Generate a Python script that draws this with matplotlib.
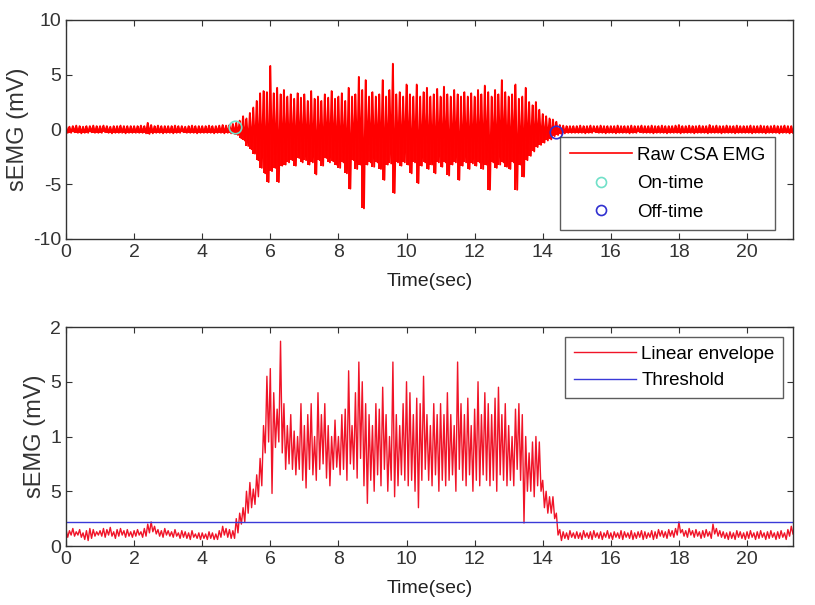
import numpy as np
import matplotlib
matplotlib.use("Agg")
import matplotlib.pyplot as plt

plt.rcParams["font.family"] = ["Liberation Sans", "DejaVu Sans"]
plt.rcParams["axes.unicode_minus"] = False

# raw sEMG: per 0.1 s bin, upper and lower peak (mV), 0.0 .. 21.3 s
raw_hi = [
    0.30, 0.25, 0.30, 0.35, 0.30, 0.25, 0.30, 0.30, 0.35, 0.30,
    0.30, 0.35, 0.30, 0.25, 0.30, 0.30, 0.35, 0.30, 0.30, 0.30,
    0.30, 0.30, 0.35, 0.30, 0.60, 0.40, 0.30, 0.35, 0.30, 0.30,
    0.30, 0.30, 0.35, 0.30, 0.30, 0.25, 0.30, 0.35, 0.30, 0.30,
    0.30, 0.30, 0.35, 0.30, 0.30, 0.35, 0.40, 0.35, 0.40, 0.50,
    0.60, 0.80, 1.20, 1.00, 1.50, 2.00, 2.60, 3.30, 3.50, 3.40,
    5.80, 3.30, 3.80, 3.20, 3.60, 3.00, 3.20, 2.80, 3.30, 2.90,
    3.20, 2.60, 3.50, 2.80, 3.00, 2.60, 3.20, 2.90, 3.50, 2.80,
    3.00, 3.30, 2.60, 3.80, 3.00, 3.20, 4.80, 3.60, 4.50, 3.00,
    3.40, 3.00, 3.20, 4.50, 3.00, 3.60, 6.00, 3.20, 3.40, 3.00,
    4.10, 3.20, 3.00, 4.10, 3.00, 3.40, 3.80, 3.00, 3.20, 3.70,
    3.00, 3.90, 3.20, 3.00, 3.60, 3.20, 3.00, 3.40, 3.00, 3.30,
    3.00, 3.60, 3.20, 4.00, 3.40, 3.00, 3.60, 3.20, 4.50, 3.40,
    3.00, 3.20, 4.10, 2.80, 3.00, 3.80, 2.50, 2.20, 2.50, 1.80,
    1.40, 1.20, 1.00, 0.90, 0.70, 0.40, 0.35, 0.30, 0.30, 0.30,
    0.30, 0.35, 0.30, 0.30, 0.35, 0.30, 0.30, 0.35, 0.30, 0.30,
    0.30, 0.30, 0.35, 0.30, 0.30, 0.30, 0.35, 0.30, 0.30, 0.35,
    0.30, 0.30, 0.35, 0.30, 0.30, 0.35, 0.30, 0.30, 0.30, 0.35,
    0.40, 0.30, 0.30, 0.35, 0.30, 0.30, 0.35, 0.30, 0.30, 0.40,
    0.30, 0.35, 0.30, 0.30, 0.35, 0.30, 0.30, 0.35, 0.30, 0.30,
    0.30, 0.35, 0.30, 0.30, 0.35, 0.30, 0.30, 0.30, 0.35, 0.30,
    0.30, 0.35, 0.30, 0.30,
]
raw_lo = [
    -0.30, -0.30, -0.25, -0.30, -0.35, -0.30, -0.30, -0.25, -0.30, -0.30,
    -0.30, -0.25, -0.30, -0.35, -0.30, -0.30, -0.30, -0.35, -0.30, -0.30,
    -0.30, -0.30, -0.30, -0.35, -0.40, -0.35, -0.30, -0.30, -0.35, -0.30,
    -0.30, -0.35, -0.30, -0.30, -0.25, -0.30, -0.30, -0.30, -0.35, -0.30,
    -0.30, -0.30, -0.30, -0.35, -0.30, -0.30, -0.35, -0.30, -0.35, -0.40,
    -0.50, -0.80, -1.00, -1.50, -1.80, -2.20, -2.80, -3.50, -4.00, -4.80,
    -3.80, -3.50, -4.80, -3.30, -3.20, -3.00, -2.80, -3.30, -2.60, -3.00,
    -2.80, -3.20, -3.00, -4.10, -2.80, -3.30, -2.60, -3.00, -2.90, -3.20,
    -3.50, -3.00, -4.00, -5.40, -2.80, -3.60, -3.20, -7.20, -3.20, -3.00,
    -3.40, -3.00, -3.60, -4.60, -3.20, -3.10, -5.80, -3.00, -3.30, -3.00,
    -3.20, -4.00, -3.00, -4.90, -3.30, -3.00, -3.60, -3.20, -4.00, -3.00,
    -3.40, -3.00, -4.20, -3.20, -3.00, -4.60, -3.30, -3.00, -3.60, -3.10,
    -3.30, -3.00, -3.60, -3.20, -5.50, -3.00, -3.50, -3.20, -3.00, -3.40,
    -3.60, -3.00, -5.50, -3.20, -4.30, -2.80, -2.40, -2.00, -1.60, -1.40,
    -1.20, -1.00, -0.90, -0.60, -0.50, -0.40, -0.35, -0.30, -0.30, -0.30,
    -0.30, -0.30, -0.35, -0.30, -0.30, -0.25, -0.30, -0.30, -0.35, -0.30,
    -0.30, -0.35, -0.30, -0.30, -0.30, -0.35, -0.30, -0.30, -0.25, -0.30,
    -0.30, -0.30, -0.35, -0.30, -0.30, -0.30, -0.35, -0.30, -0.30, -0.30,
    -0.35, -0.30, -0.30, -0.30, -0.35, -0.30, -0.30, -0.30, -0.35, -0.30,
    -0.30, -0.30, -0.35, -0.30, -0.30, -0.30, -0.35, -0.30, -0.30, -0.30,
    -0.30, -0.35, -0.30, -0.30, -0.30, -0.35, -0.30, -0.30, -0.30, -0.35,
    -0.30, -0.30, -0.35, -0.30,
]

# linear envelope: per 0.1 s bin, upper and lower value
env_hi = [
    0.15, 0.14, 0.16, 0.13, 0.15, 0.12, 0.14, 0.16, 0.15, 0.13,
    0.14, 0.16, 0.15, 0.17, 0.13, 0.15, 0.16, 0.14, 0.15, 0.13,
    0.14, 0.15, 0.13, 0.16, 0.20, 0.22, 0.18, 0.15, 0.14, 0.16,
    0.14, 0.13, 0.15, 0.12, 0.14, 0.13, 0.12, 0.14, 0.11, 0.12,
    0.12, 0.11, 0.13, 0.12, 0.11, 0.14, 0.18, 0.16, 0.15, 0.14,
    0.25, 0.30, 0.35, 0.50, 0.58, 0.52, 0.65, 0.80, 1.10, 1.55,
    1.62, 1.40, 1.25, 1.87, 1.30, 1.10, 1.20, 1.05, 1.00, 1.30,
    1.10, 1.20, 1.30, 1.00, 1.40, 1.20, 1.30, 1.10, 1.00, 1.15,
    1.00, 1.20, 1.25, 1.60, 1.10, 1.40, 1.68, 1.50, 1.30, 1.20,
    1.10, 1.30, 1.25, 1.45, 1.20, 1.00, 1.68, 1.20, 1.10, 1.30,
    1.50, 1.40, 1.20, 1.35, 1.30, 1.55, 1.20, 1.10, 1.30, 1.20,
    1.30, 1.20, 1.40, 1.20, 1.10, 1.68, 1.30, 1.20, 1.35, 1.10,
    1.25, 1.50, 1.20, 1.40, 1.30, 1.20, 1.35, 1.45, 1.20, 1.30,
    1.10, 1.00, 1.25, 1.30, 1.20, 1.00, 0.85, 0.95, 1.00, 0.95,
    0.60, 0.50, 0.45, 0.45, 0.30, 0.15, 0.13, 0.12, 0.14, 0.12,
    0.13, 0.12, 0.14, 0.12, 0.13, 0.14, 0.12, 0.13, 0.12, 0.14,
    0.12, 0.13, 0.12, 0.14, 0.13, 0.12, 0.14, 0.12, 0.13, 0.14,
    0.13, 0.12, 0.14, 0.13, 0.15, 0.14, 0.13, 0.15, 0.14, 0.16,
    0.22, 0.15, 0.14, 0.16, 0.14, 0.15, 0.13, 0.14, 0.15, 0.13,
    0.20, 0.16, 0.14, 0.13, 0.12, 0.13, 0.12, 0.14, 0.13, 0.12,
    0.13, 0.14, 0.12, 0.13, 0.14, 0.12, 0.13, 0.14, 0.12, 0.13,
    0.14, 0.12, 0.15, 0.18,
]
env_lo = [
    0.08, 0.10, 0.09, 0.10, 0.08, 0.06, 0.05, 0.07, 0.09, 0.10,
    0.09, 0.08, 0.10, 0.09, 0.07, 0.09, 0.10, 0.08, 0.09, 0.08,
    0.09, 0.10, 0.08, 0.09, 0.12, 0.13, 0.11, 0.09, 0.08, 0.10,
    0.09, 0.08, 0.09, 0.07, 0.08, 0.07, 0.06, 0.08, 0.07, 0.06,
    0.07, 0.06, 0.07, 0.06, 0.06, 0.08, 0.10, 0.08, 0.07, 0.07,
    0.12, 0.20, 0.22, 0.30, 0.35, 0.38, 0.45, 0.55, 0.85, 0.95,
    0.48, 0.90, 0.95, 0.85, 0.70, 0.75, 0.70, 0.65, 0.70, 0.60,
    0.53, 0.70, 0.65, 0.60, 0.70, 0.75, 0.62, 0.55, 0.70, 0.72,
    0.65, 0.70, 0.60, 0.75, 0.70, 0.62, 0.80, 0.55, 0.39, 0.60,
    0.50, 0.65, 0.55, 0.70, 0.50, 0.60, 0.45, 0.55, 0.65, 0.60,
    0.55, 0.60, 0.50, 0.35, 0.60, 0.70, 0.60, 0.55, 0.65, 0.50,
    0.60, 0.55, 0.60, 0.65, 0.50, 0.70, 0.60, 0.55, 0.65, 0.50,
    0.60, 0.55, 0.65, 0.60, 0.55, 0.60, 0.50, 0.65, 0.60, 0.55,
    0.60, 0.55, 0.70, 0.60, 0.21, 0.50, 0.50, 0.45, 0.55, 0.50,
    0.35, 0.30, 0.30, 0.25, 0.10, 0.05, 0.07, 0.06, 0.08, 0.07,
    0.07, 0.06, 0.08, 0.07, 0.06, 0.08, 0.07, 0.06, 0.08, 0.07,
    0.06, 0.08, 0.07, 0.06, 0.08, 0.07, 0.06, 0.07, 0.08, 0.06,
    0.07, 0.08, 0.06, 0.07, 0.09, 0.08, 0.07, 0.09, 0.08, 0.10,
    0.12, 0.09, 0.08, 0.10, 0.08, 0.09, 0.07, 0.08, 0.09, 0.07,
    0.11, 0.09, 0.08, 0.07, 0.06, 0.07, 0.06, 0.08, 0.07, 0.06,
    0.07, 0.08, 0.06, 0.07, 0.08, 0.06, 0.07, 0.08, 0.06, 0.07,
    0.08, 0.06, 0.09, 0.11,
]

onset_t, onset_v = 4.96, 0.2
offset_t, offset_v = 14.38, -0.2
threshold = 0.22

x_ticks = [0, 2, 4, 6, 8, 10, 12, 14, 16, 18, 20]
top_yticks = [-10, -5, 0, 5, 10]
bot_yticks = [0, 0.5, 1, 1.5, 2]
bot_ylabels = ["0", "5", "1", "5", "2"]

t = np.arange(len(raw_hi)) * 0.1
tz = np.column_stack([t, t + 0.05]).ravel()
raw_z = np.column_stack([raw_hi, raw_lo]).ravel()
env_z = np.column_stack([env_hi, env_lo]).ravel()
xmax = 21.35

fig = plt.figure(figsize=(8.15, 6.05), dpi=100)
ax1 = fig.add_axes([0.081, 0.605, 0.892, 0.362])
ax2 = fig.add_axes([0.081, 0.0975, 0.892, 0.362])

# dense raw trace: zig-zag between the peaks plus a vertical stroke per bin
ax1.vlines(t, raw_lo, raw_hi, color="#ff0000", lw=1.4)
ax1.plot(tz, raw_z, color="#ff0000", lw=1.4, label="Raw CSA EMG")
ax1.plot([onset_t], [onset_v], "o", ms=9, mfc="none", mec="#70e0c8", mew=1.2, label="On-time")
ax1.plot([offset_t], [offset_v], "o", ms=9, mfc="none", mec="#3030d0", mew=1.2, label="Off-time")
ax1.set_ylim(-10, 10)
ax1.set_yticks(top_yticks)

ax2.plot(tz, env_z, color="#f01428", lw=1.0, label="Linear envelope")
ax2.axhline(threshold, color="#3a3ad8", lw=1.0, label="Threshold")
ax2.set_ylim(0, 2)
ax2.set_yticks(bot_yticks)
ax2.set_yticklabels(bot_ylabels)

for ax in (ax1, ax2):
    ax.set_xlim(0, xmax)
    ax.set_xticks(x_ticks)
    ax.tick_params(direction="in", top=True, right=True, labelsize=14,
                   length=4, color="#333333", labelcolor="#333333")
    for s in ax.spines.values():
        s.set_color("#333333")
        s.set_linewidth(1.0)
    ax.set_xlabel("Time(sec)", fontsize=14, color="#222222", labelpad=9)
    ax.set_ylabel("sEMG (mV)", fontsize=17, color="#333333", labelpad=3)

leg1 = ax1.legend(loc="lower right", bbox_to_anchor=(0.975, 0.041), borderaxespad=0,
                  fancybox=False, edgecolor="#333333", fontsize=13.5, handlelength=3.3,
                  handletextpad=0.3, labelspacing=0.6, borderpad=0.5, markerscale=0.8)
leg1.get_frame().set_linewidth(1.0)
leg1.get_lines()[0].set_linewidth(1.2)
leg2 = ax2.legend(loc="upper right", bbox_to_anchor=(0.986, 0.954), borderaxespad=0,
                  fancybox=False, edgecolor="#333333", fontsize=13.5, handlelength=3.3,
                  handletextpad=0.3, labelspacing=0.5, borderpad=0.45)
leg2.get_frame().set_linewidth(1.0)

fig.savefig("out.png", dpi=100)
